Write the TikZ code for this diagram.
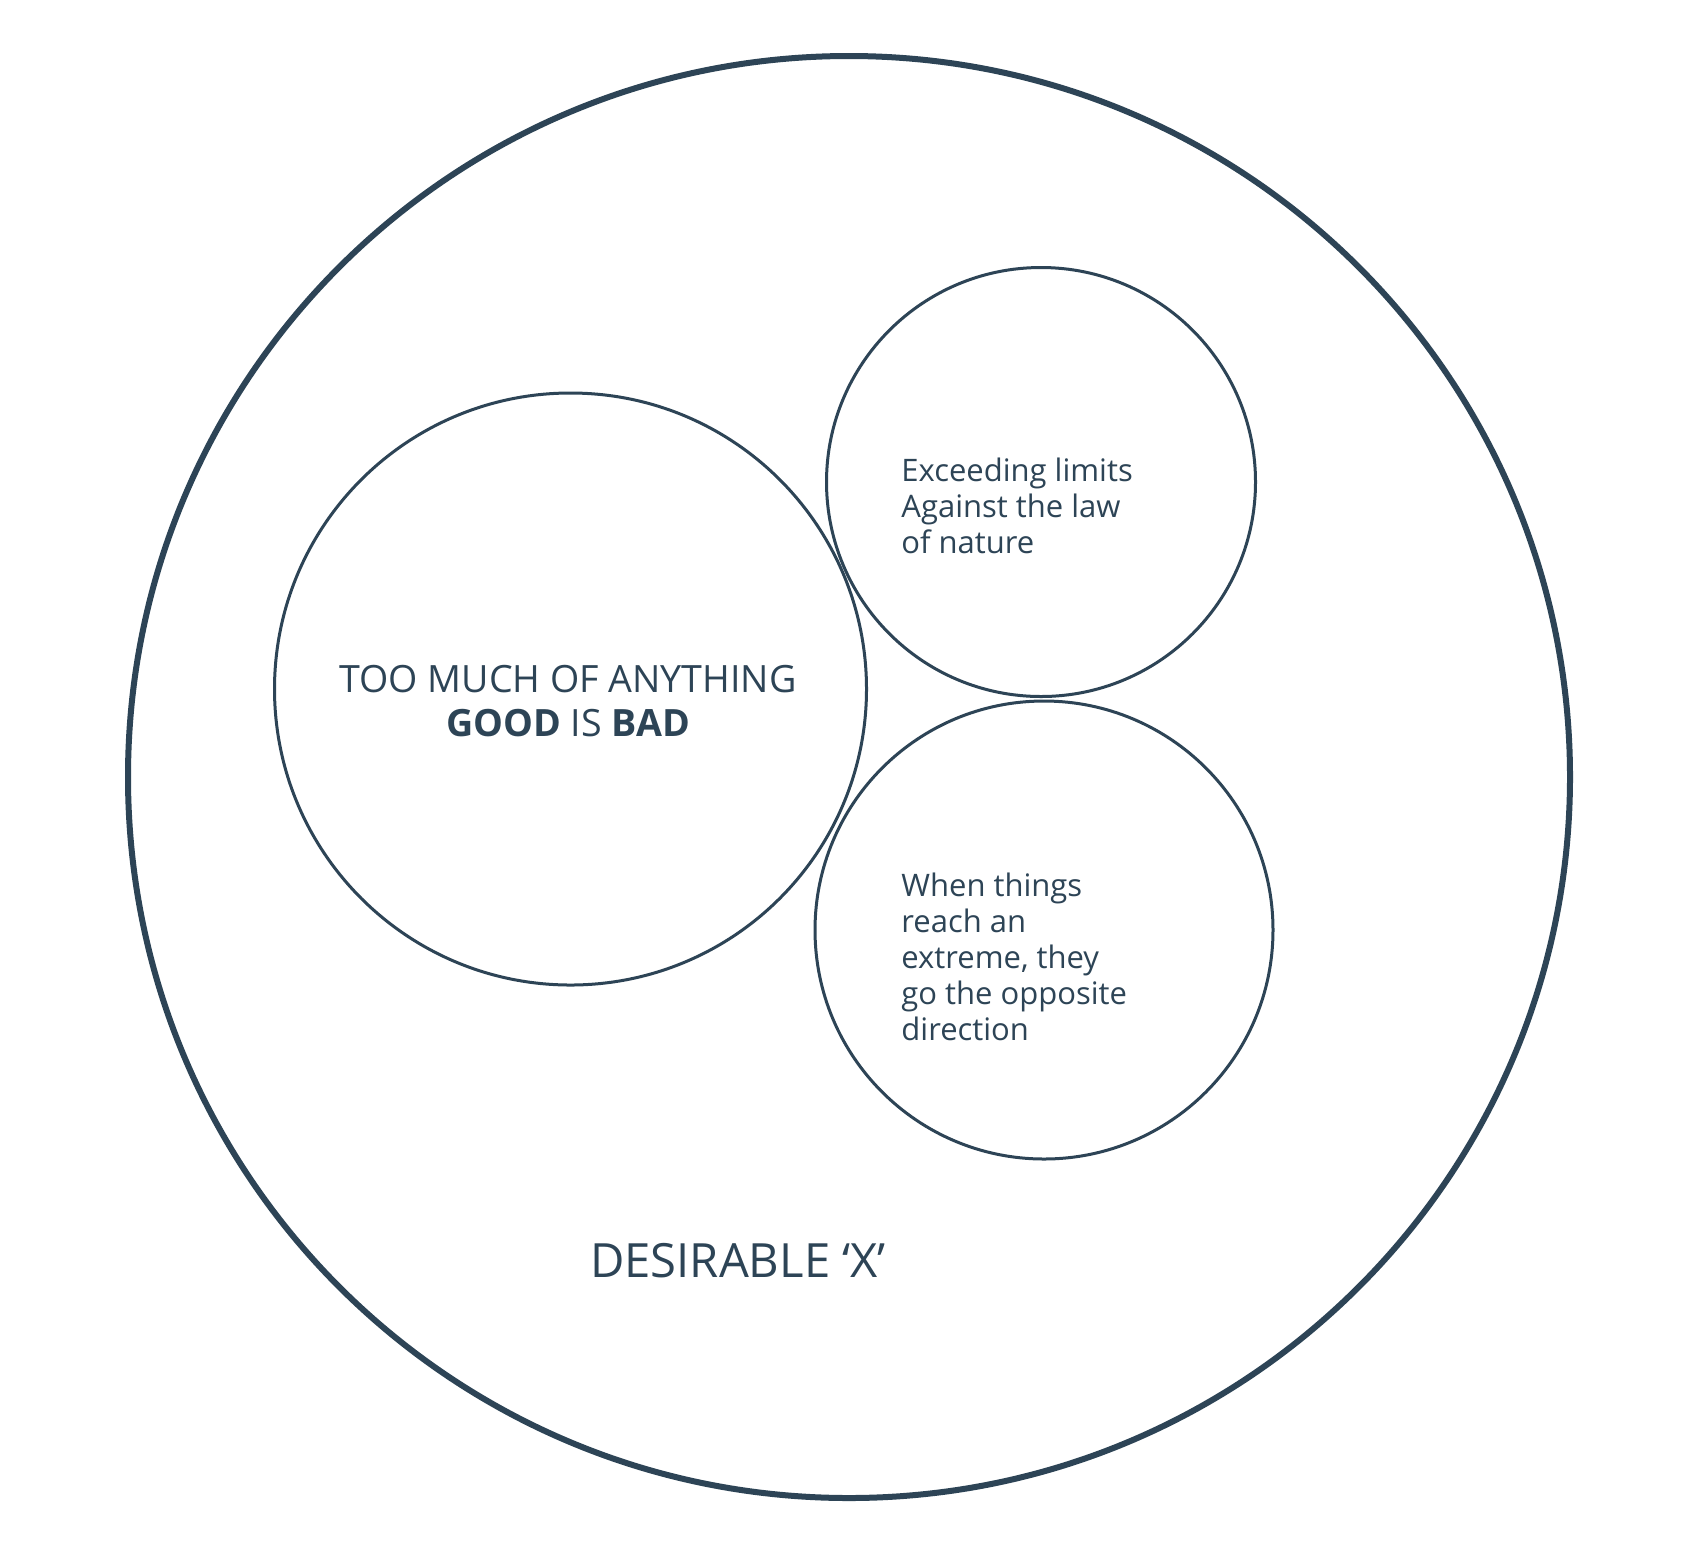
\documentclass[tikz,border=0pt]{standalone}
\usepackage{fontspec}
\setmainfont{Open Sans}
\definecolor{ink}{HTML}{2D4456}
\begin{document}
\begin{tikzpicture}[x=1pt,y=1pt,
  ring/.style={draw=ink,circle,inner sep=0pt},
  small/.style={text=ink,align=left,font=\fontsize{15.5}{18}\selectfont,anchor=west,inner sep=0pt},
]
\useasboundingbox[fill=white] (0,0) rectangle (850,-777);
\node[ring,line width=3pt,minimum size=721pt] (outer) at (424.5,-388.5) {};
\node[ring,line width=1.5pt,minimum size=296pt] (big) at (285.25,-344.5) {};
\node[ring,line width=1.5pt,minimum size=214.5pt] (tr) at (520.5,-241) {};
\node[ring,line width=1.5pt,minimum size=229pt] (br) at (522,-465) {};
\node[text=ink,align=center,font=\fontsize{18.8}{22}\selectfont,inner sep=0pt] (main) at (284,-350.5)
  {TOO MUCH OF ANYTHING\\\textbf{GOOD} IS \textbf{BAD}};
\node[small] (trtext) at (450.5,-252.75) {Exceeding limits\\Against the law\\of nature};
\node[small] (brtext) at (450.5,-478.5) {When things\\reach an\\extreme, they\\go the opposite\\direction};
\node[text=ink,font=\fontsize{23.6}{26}\selectfont,inner sep=0pt] (label) at (369,-630.5) {DESIRABLE ‘X’};
\end{tikzpicture}
\end{document}
